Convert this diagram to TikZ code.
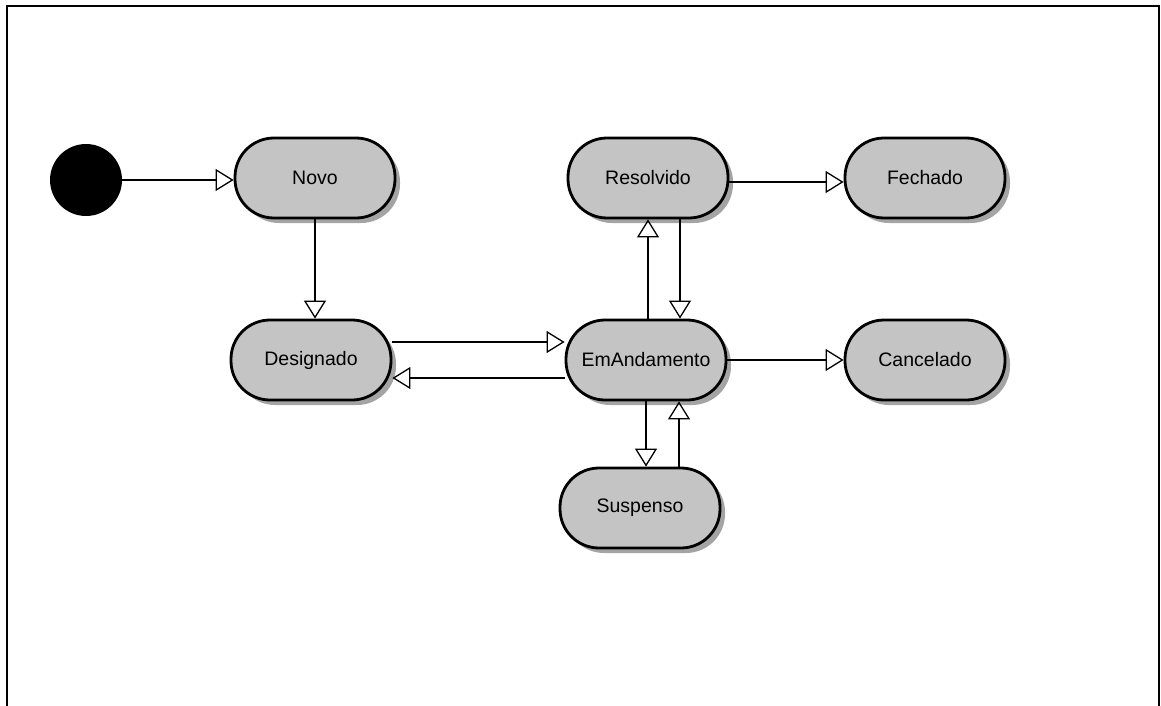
\documentclass[tikz,border=0pt]{standalone}
\usepackage{fontspec}
\setmainfont{Liberation Sans}
\usetikzlibrary{arrows.meta,shadows,calc}

\definecolor{statefill}{HTML}{C4C4C4}
\definecolor{stateshadow}{HTML}{A4A4A4}

\tikzset{
  state/.style={draw=black, line width=2.8pt, fill=statefill,
    rounded corners=39pt, minimum width=160pt, minimum height=80pt,
    inner sep=0pt, font=\fontsize{19.5}{22}\selectfont,
    drop shadow={shadow xshift=5pt, shadow yshift=-5pt, fill=stateshadow, opacity=1}},
  initial/.style={circle, fill=black, minimum size=72pt, inner sep=0pt},
  arr/.style={line width=1.5pt, -{Triangle[open, length=18pt, width=22pt, line width=1.3pt]}},
  frameline/.style={line width=2pt}
}

\begin{document}
\begin{tikzpicture}[x=1pt, y=-1pt]
  \useasboundingbox (0,0) rectangle (1161,706);
  % outer frame (bottom edge runs off the page)
  \draw[frameline] (7,712) -- (7,6) -- (1159,6) -- (1159,712);

  % states
  \node[initial] (ini) at (86,180) {};
  \node[state] (novo) at (315,178) {Novo};
  \node[state] (des) at (311,360) {Designado};
  \node[state] (em) at (646,360) {EmAndamento};
  \node[state] (res) at (648,178) {Resolvido};
  \node[state] (fec) at (925,178) {Fechado};
  \node[state] (can) at (925,360) {Cancelado};
  \node[state] (sus) at (640,508) {Suspenso};

  % transitions
  \draw[arr] (ini.east) -- (ini.east -| novo.west);
  \draw[arr] (novo.south) -- (novo.south |- des.north);

  \coordinate (dfw) at ($(des.east)+(0,-18)$);
  \draw[arr] (dfw) -- (dfw -| em.west);
  \coordinate (dbk) at ($(em.west)+(0,18)$);
  \draw[arr] (dbk) -- (dbk -| des.east);

  \coordinate (up1) at ($(em.north)+(2,0)$);
  \draw[arr] (up1) -- (up1 |- res.south);
  \coordinate (dn1) at ($(res.south)+(32,0)$);
  \draw[arr] (dn1) -- (dn1 |- em.north);

  \coordinate (rf) at ($(res.east)+(0,4)$);
  \draw[arr] (rf) -- (rf -| fec.west);
  \draw[arr] (em.east) -- (em.east -| can.west);

  \coordinate (dn2) at ($(em.south)+(0,0)$);
  \draw[arr] (dn2) -- (dn2 |- sus.north);
  \coordinate (up2) at ($(sus.north)+(39,0)$);
  \draw[arr] (up2) -- (up2 |- em.south);
\end{tikzpicture}
\end{document}
